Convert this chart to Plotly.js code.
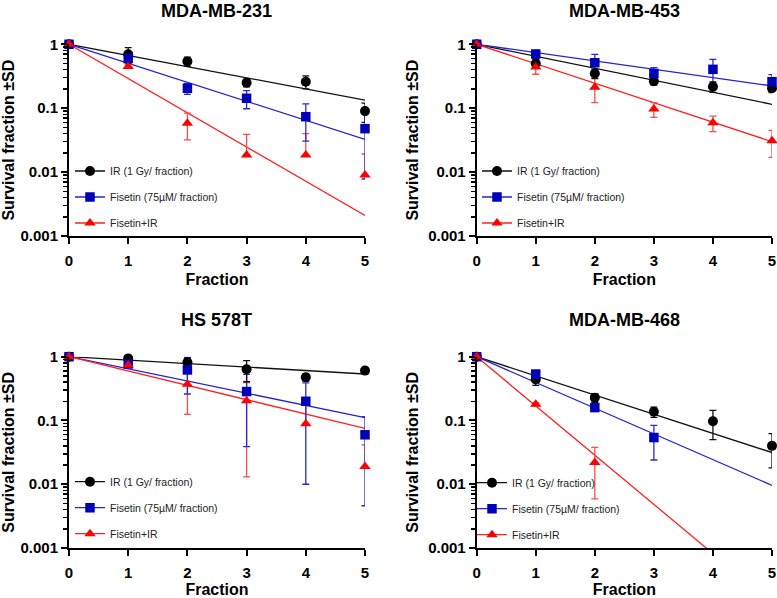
<!DOCTYPE html>
<html><head><meta charset="utf-8">
<script src="https://cdn.plot.ly/plotly-3.0.1.min.js"></script>
<style>html,body{margin:0;padding:0;background:#fff}#chart{width:777px;height:598px}</style>
</head><body><div id="chart"></div>
<script>
// ---------- data ----------
const fractions = [0, 1, 2, 3, 4, 5];
const fitX = [0, 5];
const panelTitles = ['MDA-MB-231', 'MDA-MB-453', 'HS 578T', 'MDA-MB-468'];
const seriesNames = ['IR (1 Gy/ fraction)', 'Fisetin (75\u00b5M/ fraction)', 'Fisetin+IR'];
const yTickVals = [0.001, 0.01, 0.1, 1];
const yTickText = ['0.001', '0.01', '0.1', '1'];
const xTickText = ['0', '1', '2', '3', '4', '5'];

// MDA-MB-231
const ir231 = [1, 0.70, 0.54, 0.25, 0.26, 0.09];
const ir231SD = [0, 0.19, 0.09, 0.035, 0.06, 0.03];
const fis231 = [1, 0.60, 0.205, 0.143, 0.0736, 0.0478];
const fis231SD = [0, 0.06, 0.04, 0.045, 0.043, 0.04];
const comb231 = [1, 0.45, 0.058, 0.0185, 0.0185, 0.009];
const comb231SD = [0, 0.03, 0.026, 0.0205, 0.0215, 0.0102];
const fitIr231 = [1, 0.134];
const fitFis231 = [1, 0.0326];
const fitComb231 = [1, 0.0021];

// MDA-MB-453
const ir453 = [1, 0.50, 0.35, 0.264, 0.217, 0.205];
const ir453SD = [0, 0.08, 0.06, 0.035, 0.04, 0.03];
const fis453 = [1, 0.705, 0.515, 0.35, 0.406, 0.26];
const fis453SD = [0, 0.1, 0.18, 0.08, 0.175, 0.075];
const comb453 = [1, 0.44, 0.212, 0.097, 0.059, 0.031];
const comb453SD = [0, 0.1, 0.09, 0.025, 0.016, 0.014];
const fitIr453 = [1, 0.115];
const fitFis453 = [1, 0.223];
const fitComb453 = [1, 0.030];

// HS 578T
const ir578 = [1, 0.94, 0.82, 0.635, 0.475, 0.605];
const ir578SD = [0, 0.03, 0.12, 0.23, 0.06, 0.02];
const fis578 = [1, 0.77, 0.62, 0.284, 0.20, 0.0596];
const fis578SD = [0, 0.05, 0.36, 0.245, 0.19, 0.055];
const comb578 = [1, 0.74, 0.37, 0.203, 0.0885, 0.019];
const comb578SD = [0, 0.04, 0.245, 0.19, 0.09, 0.0225];
const fitIr578 = [1, 0.535];
const fitFis578 = [1, 0.111];
const fitComb578 = [1, 0.0752];

// MDA-MB-468
const ir468 = [1, 0.44, 0.228, 0.137, 0.097, 0.040];
const ir468SD = [0, 0.085, 0.035, 0.025, 0.047, 0.022];
const fis468 = [1, 0.535, 0.159, 0.054, null, null];
const fis468SD = [0, 0.03, 0.01, 0.03, null, null];
const comb468 = [1, 0.18, 0.0219, null, null, null];
const comb468SD = [0, 0.01, 0.016, null, null, null];
const fitIr468 = [1, 0.0314];
const fitFis468 = [1, 0.0096];
const fitComb468 = [1, 0.000138];

// ---------- styling ----------
const F = '"Liberation Sans", Arial, Helvetica, sans-serif';
const colors = {
  marker: ['#000000', '#0000b8', '#ff0000'],
  line: ['#111111', '#2222d8', '#ff2020'],
  err: ['#111111', '#2a2ad0', '#ff4a4a']
};
const symbols = ['circle', 'square', 'triangle-up'];
const sizes = [10, 9.5, 10];

const panels = [
  {means: [ir231, fis231, comb231], sds: [ir231SD, fis231SD, comb231SD], fits: [fitIr231, fitFis231, fitComb231]},
  {means: [ir453, fis453, comb453], sds: [ir453SD, fis453SD, comb453SD], fits: [fitIr453, fitFis453, fitComb453]},
  {means: [ir578, fis578, comb578], sds: [ir578SD, fis578SD, comb578SD], fits: [fitIr578, fitFis578, fitComb578]},
  {means: [ir468, fis468, comb468], sds: [ir468SD, fis468SD, comb468SD], fits: [fitIr468, fitFis468, fitComb468]}
];

const W = 777, H = 598;
// pixel geometry of plot areas
const xPix = [[69, 365], [476.7, 772], [69, 365], [476.7, 772]];
const yPix = [[44.3, 236], [44.3, 236], [356.7, 548], [356.7, 548]];
const legendPos = [[70, 156.5], [477, 156.5], [70, 467.2], [472, 468.2]];

const traces = [];
const layout = {
  width: W, height: H,
  margin: {l: 0, r: 0, t: 0, b: 0},
  paper_bgcolor: '#ffffff', plot_bgcolor: 'rgba(0,0,0,0)',
  font: {family: F, color: '#000'},
  showlegend: true,
  annotations: []
};

const minorVals = [];
[0.001, 0.01, 0.1].forEach(d => { for (let k = 2; k <= 9; k++) minorVals.push(k * d); });

panels.forEach((p, i) => {
  const sfx = i === 0 ? '' : String(i + 1);
  const xa = 'x' + sfx, ya = 'y' + sfx;
  const lg = 'legend' + sfx;
  // fit lines
  p.fits.forEach((f, s) => {
    traces.push({x: fitX, y: f, xaxis: xa, yaxis: ya, mode: 'lines', type: 'scatter',
      line: {color: colors.line[s], width: 1.3}, showlegend: false, hoverinfo: 'skip'});
  });
  // error bars (drawn back to front: combination, fisetin, IR)
  [2, 1, 0].forEach(s => {
    const m = p.means[s], sd = p.sds[s];
    traces.push({x: fractions, y: m, xaxis: xa, yaxis: ya, mode: 'markers', type: 'scatter',
      marker: {size: 1, opacity: 0}, showlegend: false, hoverinfo: 'skip', cliponaxis: false,
      error_y: {type: 'data', symmetric: false, array: sd,
        arrayminus: sd.map((v, k) => (v === null || m[k] === null) ? null : (v < m[k] ? v : 0)),
        color: colors.err[s], thickness: 1.3, width: 3.5}});
  });
  // markers
  [0, 1, 2].forEach(s => {
    traces.push({x: fractions, y: p.means[s], xaxis: xa, yaxis: ya, mode: 'markers', type: 'scatter',
      name: seriesNames[s], cliponaxis: false, showlegend: false,
      marker: {symbol: symbols[s], size: sizes[s], color: colors.marker[s], line: {width: 0}}});
  });
  // legend entries
  [0, 1, 2].forEach(s => {
    traces.push({x: [null], y: [null], xaxis: xa, yaxis: ya, mode: 'lines+markers', type: 'scatter',
      name: seriesNames[s], legend: lg, legendgroup: 'p' + i + 's' + s, showlegend: true,
      line: {color: colors.line[s], width: 1.3},
      marker: {symbol: symbols[s], size: sizes[s], color: colors.marker[s]}});
  });

  const xd = [xPix[i][0] / W, xPix[i][1] / W];
  const yd = [1 - yPix[i][1] / H, 1 - yPix[i][0] / H];
  layout['xaxis' + sfx] = {
    domain: xd, anchor: ya, range: [0, 5], tickmode: 'array', tickvals: fractions, ticktext: xTickText,
    showline: true, linewidth: 2, linecolor: '#000', ticks: 'outside', ticklen: 6, tickwidth: 2, tickcolor: '#000',
    ticklabelstandoff: 4,
    tickfont: {family: F, size: 15, weight: 'bold', color: '#000'},
    showgrid: false, zeroline: false, fixedrange: true, automargin: false,
    title: {text: 'Fraction', standoff: 6, font: {family: F, size: 16, weight: 'bold', color: '#000'}}
  };
  layout['yaxis' + sfx] = {
    domain: yd, anchor: xa, type: 'log', range: [-3, 0], tickmode: 'array', tickvals: yTickVals, ticktext: yTickText,
    showline: true, linewidth: 2, linecolor: '#000', ticks: 'outside', ticklen: 6, tickwidth: 2, tickcolor: '#000',
    tickfont: {family: F, size: 15, weight: 'bold', color: '#000'},
    minor: {tickmode: 'array', tickvals: minorVals, ticks: 'outside', ticklen: 4, tickwidth: 1.5, tickcolor: '#000', showgrid: false},
    showgrid: false, zeroline: false, fixedrange: true, automargin: false,
    title: {text: 'Survival fraction \u00b1SD', standoff: 6, font: {family: F, size: 16, weight: 'bold', color: '#000'}}
  };
  layout[lg] = {
    x: legendPos[i][0] / W, y: 1 - legendPos[i][1] / H, xanchor: 'left', yanchor: 'top',
    xref: 'paper', yref: 'paper',
    bgcolor: 'rgba(0,0,0,0)', borderwidth: 0, itemwidth: 30,
    traceorder: 'grouped', tracegroupgap: 7,
    font: {family: F, size: 10.5, color: '#222'}
  };
  const top = i < 2;
  layout.annotations.push({
    text: panelTitles[i], xref: 'paper', yref: 'paper',
    x: (xPix[i][0] + xPix[i][1]) / 2 / W, y: top ? 1 : 1 - 320 / H,
    xanchor: 'center', yanchor: top ? 'top' : 'middle', borderpad: 0, showarrow: false,
    font: {family: F, size: 18, weight: 'bold', color: '#000'}
  });
});

Plotly.newPlot('chart', traces, layout, {staticPlot: true, displayModeBar: false});
</script>
</body></html>
